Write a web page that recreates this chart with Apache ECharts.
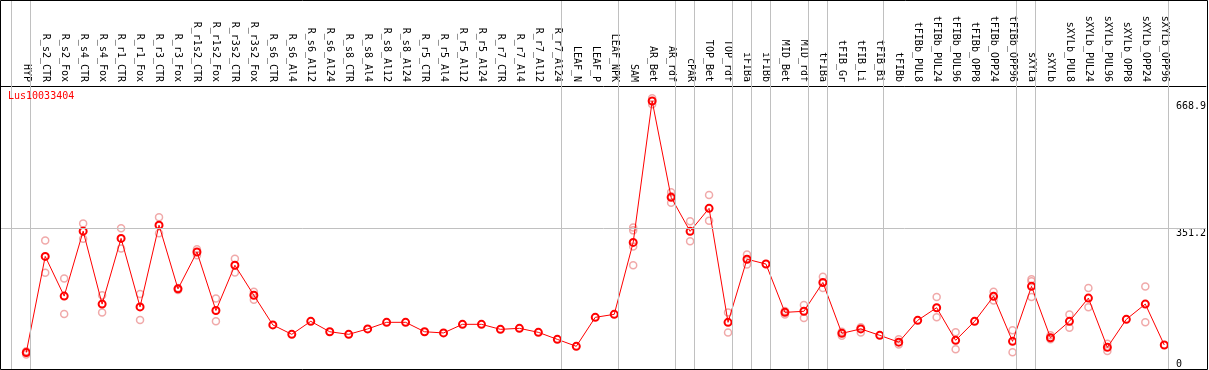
<!DOCTYPE html>
<html>
<head>
<meta charset="utf-8">
<script src="https://cdn.jsdelivr.net/npm/echarts@6/dist/echarts.min.js"></script>
<style>
html,body{margin:0;padding:0;background:#fff;}
#chart{width:1209px;height:370px;}
</style>
</head>
<body>
<div id="chart"></div>
<script>
const geneName = 'Lus10033404';
const categories = ['HYP','R_s2_CTR','R_s2_Fox','R_s4_CTR','R_s4_Fox','R_r1_CTR','R_r1_Fox','R_r3_CTR','R_r3_Fox',
 'R_r1s2_CTR','R_r1s2_Fox','R_r3s2_CTR','R_r3s2_Fox','R_s6_CTR','R_s6_Al4','R_s6_Al12','R_s6_Al24',
 'R_s8_CTR','R_s8_Al4','R_s8_Al12','R_s8_Al24','R_r5_CTR','R_r5_Al4','R_r5_Al12','R_r5_Al24',
 'R_r7_CTR','R_r7_Al4','R_r7_Al12','R_r7_Al24','LEAF_N','LEAF_P','LEAF_NPK','SAM','AR_Bet','AR_rdf',
 'cPAR','TOP_Bet','TOP_rdf','iFIBa','iFIBb','MID_Bet','MID_rdf','tFIBa','tFIB_Gr','tFIB_Li','tFIB_Bi',
 'tFIBb','tFIBb_PUL8','tFIBb_PUL24','tFIBb_PUL96','tFIBb_OPP8','tFIBb_OPP24','tFIBb_OPP96',
 'sXYLa','sXYLb','sXYLb_PUL8','sXYLb_PUL24','sXYLb_PUL96','sXYLb_OPP8','sXYLb_OPP24','sXYLb_OPP96'];
const means = [41,281,182,344,162,326,155,359,200,
 292,146,259,184,110,86.5,119,93,
 86.5,100,116.5,116.5,93,90,111.5,111.5,
 99,101.5,91.5,74,56.6,129,136.4,316,668.9,428.5,
 343.6,401,116.5,274,262,141.4,144,216,89,100,84,
 67,121.5,153,71.6,119,181.4,69,
 206.3,78,119,177,54,124,162,60];
const replicates = [[44,36,42],[321,240],[226,137],[363,325],[184,141],[351,301],[187,122],[379,339],[202,197],
 [299,284],[176,119],[275,241],[193,173],[],[],[],[],
 [],[],[],[],[],[],[],[],
 [],[],[],[],[],[],[],[353,346,306,259],[676,661],[441,431,415],
 [369,319],[434,370],[141,91],[286,261],[],[145,136],[160,127],[230,202],[93,83],[104,91],[],
 [74,61],[],[180,129],[91.5,49],[],[193,171],[96.5,41.6],
 [224,219,180],[84,74],[136,103],[202,154],[63,45],[],[206,116.5],[]];
const groupEnds = [-1,0,28,31,34,35,37,38,39,41,42,45,52,53,60];
const yTickValues = [0, 351.2, 668.9];

// layout helpers
const gridLeft = 1, gridRight = 1, gridTop = 1, gridBottom = 1;
const W = 1209, H = 370;
const pxPerCat = 19, firstCatX = 26.3;
const gridW = W - gridLeft - gridRight;
const xMin = -(firstCatX - gridLeft) / pxPerCat;
const xMax = xMin + gridW / pxPerCat;
const gridH = H - gridTop - gridBottom;
const plotTopY = 87.6; // where 1.05*max sits
const yTop = Math.max(...means) * 1.05;
const yMax = yTop * gridH / (H - gridBottom - plotTopY);
const midLine = yTop / 2;
const sepOffset = 0.21;

const meanData = means.map((v, i) => [i, v]);
const repData = [];
replicates.forEach((arr, i) => arr.forEach(v => repData.push([i, v])));

const font = 'DejaVu Sans Mono';
const chart = echarts.init(document.getElementById('chart'), null, {renderer: 'canvas'});
chart.setOption({
  animation: false,
  backgroundColor: '#fff',
  title: {
    text: geneName, left: 8, top: 91, padding: 0,
    textStyle: {color: '#ff0000', fontFamily: font, fontSize: 10, fontWeight: 'normal'}
  },
  grid: {left: gridLeft, right: gridRight, top: gridTop, bottom: gridBottom, containLabel: false},
  xAxis: {
    type: 'value', position: 'top', min: xMin, max: xMax, offset: -85,
    axisLine: {show: true, onZero: false, lineStyle: {color: '#000', width: 1}},
    axisTick: {show: false},
    splitLine: {show: false},
    axisLabel: {
      show: true, rotate: 90, margin: 4,
      customValues: categories.map((c, i) => i),
      formatter: v => categories[Math.round(v)],
      color: '#000', fontFamily: font, fontSize: 10
    }
  },
  yAxis: [{
    type: 'value', position: 'right', min: 0, max: yMax, offset: -38,
    axisLine: {show: false}, axisTick: {show: false}, splitLine: {show: false},
    axisLabel: {
      show: true, margin: 8, verticalAlign: 'top',
      customValues: yTickValues.filter(v => v > 0),
      formatter: v => String(v),
      color: '#000', fontFamily: font, fontSize: 10
    }
  }, {
    type: 'value', position: 'right', min: 0, max: yMax, offset: -38,
    axisLine: {show: false}, axisTick: {show: false}, splitLine: {show: false},
    axisLabel: {
      show: true, margin: 8, verticalAlign: 'bottom',
      customValues: yTickValues.filter(v => v === 0),
      formatter: v => String(v),
      color: '#000', fontFamily: font, fontSize: 10
    }
  }],
  graphic: [{
    type: 'rect', z: 100, silent: true,
    shape: {x: 0.5, y: 0.5, width: 1207, height: 369},
    style: {fill: null, stroke: '#000', lineWidth: 1}
  }],
  series: [{
    type: 'line', data: [], z: 1, silent: true,
    markLine: {
      silent: true, symbol: 'none', animation: false,
      label: {show: false},
      lineStyle: {color: '#c0c0c0', width: 1, type: 'solid'},
      data: groupEnds.map(g => ({xAxis: g + sepOffset})).concat([{yAxis: midLine}])
    }
  }, {
    type: 'scatter', data: repData, z: 2, silent: true,
    symbol: 'circle', symbolSize: 7,
    itemStyle: {color: 'rgba(0,0,0,0)', borderColor: '#ec9494', borderWidth: 1.5}
  }, {
    type: 'line', data: meanData, z: 3, silent: true,
    symbol: 'circle', symbolSize: 7, showAllSymbol: true,
    lineStyle: {color: '#ff0000', width: 1},
    itemStyle: {color: 'rgba(0,0,0,0)', borderColor: '#ff0000', borderWidth: 2}
  }]
});
</script>
</body>
</html>
